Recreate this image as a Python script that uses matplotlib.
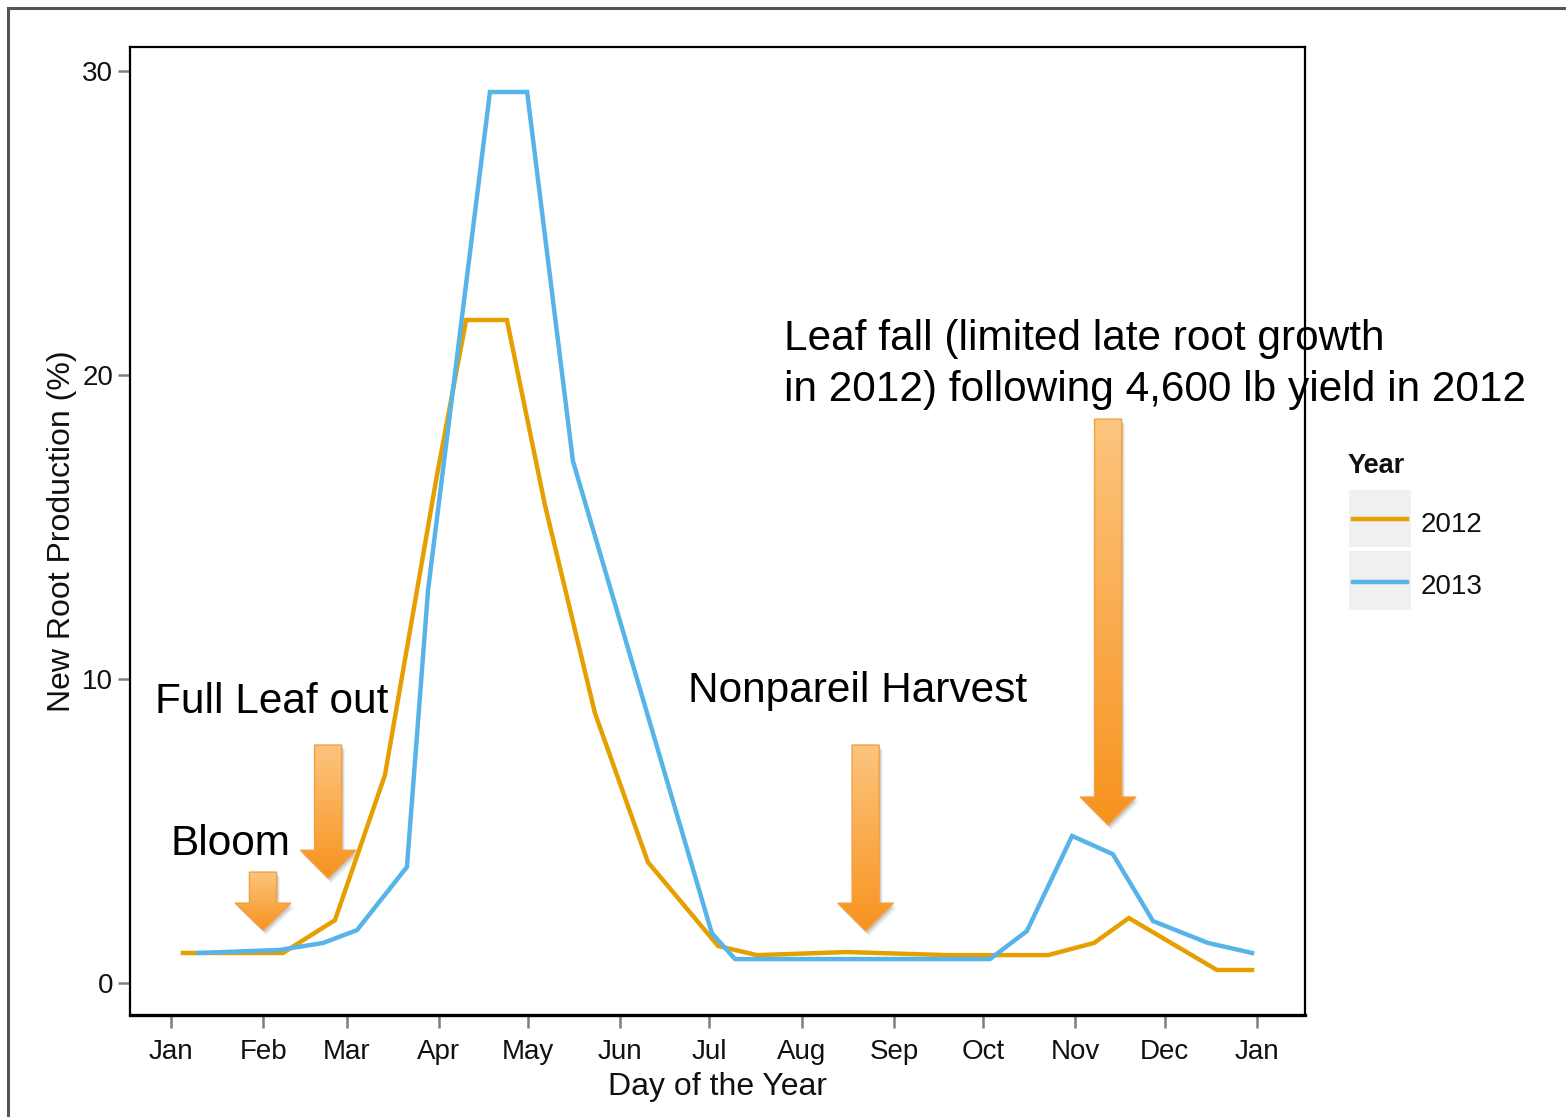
import matplotlib
matplotlib.use('Agg')
import matplotlib.pyplot as plt
import numpy as np
from matplotlib.patches import Polygon, Rectangle
from matplotlib.lines import Line2D
from matplotlib.colors import LinearSegmentedColormap
import matplotlib.transforms as mtransforms

plt.rcParams['font.family'] = ['Liberation Sans', 'DejaVu Sans']

# ---------------- data ----------------
days_2012 = [5.0, 38.6, 56.1, 72.9, 90.4, 100.2, 113.9, 126.7, 143.5, 161.3,
             184.9, 198.0, 228.2, 261.8, 295.8, 311.3, 323.0, 352.6, 364.4]
vals_2012 = [0.99, 0.99, 2.07, 6.84, 16.71, 21.81, 21.81, 15.72, 8.88, 3.98,
             1.22, 0.92, 1.02, 0.92, 0.92, 1.32, 2.14, 0.43, 0.43]

days_2013 = [10.1, 37.6, 52.1, 63.5, 80.3, 87.4, 108.2, 120.7, 136.1, 182.8,
             190.6, 276.3, 288.7, 303.9, 317.6, 331.1, 349.6, 364.4]
vals_2013 = [0.99, 1.09, 1.32, 1.74, 3.82, 12.93, 29.31, 29.31, 17.17, 1.64,
             0.79, 0.79, 1.71, 4.84, 4.24, 2.04, 1.32, 0.99]

month_ticks = [1, 32, 60, 91, 121, 152, 182, 213, 244, 274, 305, 335, 366]
month_labels = ['Jan', 'Feb', 'Mar', 'Apr', 'May', 'Jun', 'Jul', 'Aug',
                'Sep', 'Oct', 'Nov', 'Dec', 'Jan']
y_ticks = [0, 10, 20, 30]
series_names = ['2012', '2013']
series_colors = ['#E69F00', '#56B4E9']

# annotation arrows: (x centre, top, head base, tip) in data units
arrows = [
    (31.9, 3.65, 2.63, 1.74),
    (53.8, 7.83, 4.37, 3.45),
    (234.5, 7.83, 2.63, 1.71),
    (316.0, 18.55, 6.12, 5.20),
]

# ---------------- figure ----------------
W, H = 1566, 1117
fig = plt.figure(figsize=(W / 100, H / 100), dpi=100)
fig.patch.set_facecolor('white')


def fx(px):
    return px / W


def fy(py):
    return 1 - py / H


ax = fig.add_axes([fx(130), fy(1015), fx(1305) - fx(130), fy(47) - fy(1015)])

ax.plot(days_2012, vals_2012, color=series_colors[0], lw=3.2, zorder=3,
        solid_joinstyle='miter')
ax.plot(days_2013, vals_2013, color=series_colors[1], lw=3.2, zorder=3,
        solid_joinstyle='miter')

# gradient block arrows
cmap = LinearSegmentedColormap.from_list('arr', ['#FDC57F', '#F7931E'])
sw, hw = 9.1, 18.7
for xc, ytop, ybase, ytip in arrows:
    verts = [(xc - sw / 2, ytop), (xc + sw / 2, ytop), (xc + sw / 2, ybase),
             (xc + hw / 2, ybase), (xc, ytip), (xc - hw / 2, ybase),
             (xc - sw / 2, ybase)]
    # soft shadow made of a few stacked offsets
    for k, (dx, dy, a) in enumerate([(1.5, -2.0, 0.10), (2.5, -3.5, 0.08), (3.5, -5.0, 0.05)]):
        off = mtransforms.ScaledTranslation(dx / 100, dy / 100, fig.dpi_scale_trans)
        sh = Polygon(verts, closed=True, transform=ax.transData + off,
                     facecolor='black', alpha=a, edgecolor='none', zorder=1.5)
        ax.add_patch(sh)
    clip = Polygon(verts, closed=True, facecolor='none', edgecolor='none', zorder=2)
    ax.add_patch(clip)
    grad = np.linspace(0, 1, 256).reshape(-1, 1)
    im = ax.imshow(grad, extent=[xc - hw / 2, xc + hw / 2, ytip, ytop],
                   origin='upper', cmap=cmap, aspect='auto', zorder=2,
                   interpolation='bilinear')
    im.set_clip_path(clip)
    edge = Polygon(verts, closed=True, facecolor='none', edgecolor='#F2A040',
                   lw=1.0, zorder=2.1)
    ax.add_patch(edge)

ax.set_xlim(-12.8, 382.2)
ax.set_ylim(-1.05, 30.79)
ax.set_xticks(month_ticks)
ax.set_xticklabels(month_labels)
ax.set_yticks(y_ticks)

for s in ['left', 'top', 'right']:
    ax.spines[s].set_linewidth(1.6)
    ax.spines[s].set_color('black')
ax.spines['bottom'].set_linewidth(2.4)
ax.spines['bottom'].set_color('black')

ax.tick_params(axis='both', which='major', length=9, width=1.8,
               color='#7F7F7F', labelsize=20, labelcolor='#111111', pad=3)
ax.tick_params(axis='x', pad=8)

ax.set_xlabel('Day of the Year', fontsize=23, color='#111111', labelpad=5)
ax.set_ylabel('New Root Production (%)', fontsize=23, color='#111111', labelpad=4)

# annotation texts
fs = 30.5
fig.text(fx(155), fy(713), 'Full Leaf out', fontsize=fs, va='baseline', ha='left')
fig.text(fx(170), fy(855), 'Bloom', fontsize=fs, va='baseline', ha='left')
fig.text(fx(688), fy(702), 'Nonpareil Harvest', fontsize=fs, va='baseline', ha='left')
fig.text(fx(784), fy(350), 'Leaf fall (limited late root growth', fontsize=fs,
         va='baseline', ha='left')
fig.text(fx(784), fy(401), 'in 2012) following 4,600 lb yield in 2012', fontsize=fs,
         va='baseline', ha='left')

# legend (ggplot style)
fig.text(fx(1348), fy(473), 'Year', fontsize=19.5, fontweight='bold',
         va='baseline', ha='left', color='#111111')
key_boxes = [(490, 547), (551, 610)]
for (y0, y1), name, col in zip(key_boxes, series_names, series_colors):
    fig.add_artist(Rectangle((fx(1349), fy(y1)), fx(1411) - fx(1349), fy(y0) - fy(y1),
                             transform=fig.transFigure, facecolor='#F0F0F0',
                             edgecolor='none'))
    yc = (y0 + y1) / 2 + 1
    fig.add_artist(Line2D([fx(1353), fx(1407)], [fy(yc), fy(yc)],
                          transform=fig.transFigure, color=col, lw=3.2))
    fig.text(fx(1421), fy(yc + 5), name, fontsize=20, va='center', ha='left',
             color='#111111')

# outer frame
fig.add_artist(Line2D([fx(8), fx(8)], [0, fy(8)], transform=fig.transFigure,
                      color='#555555', lw=2.2))
fig.add_artist(Line2D([fx(8), 1], [fy(8), fy(8)], transform=fig.transFigure,
                      color='#555555', lw=2.2))

fig.savefig('out.png', dpi=100, facecolor='white')
